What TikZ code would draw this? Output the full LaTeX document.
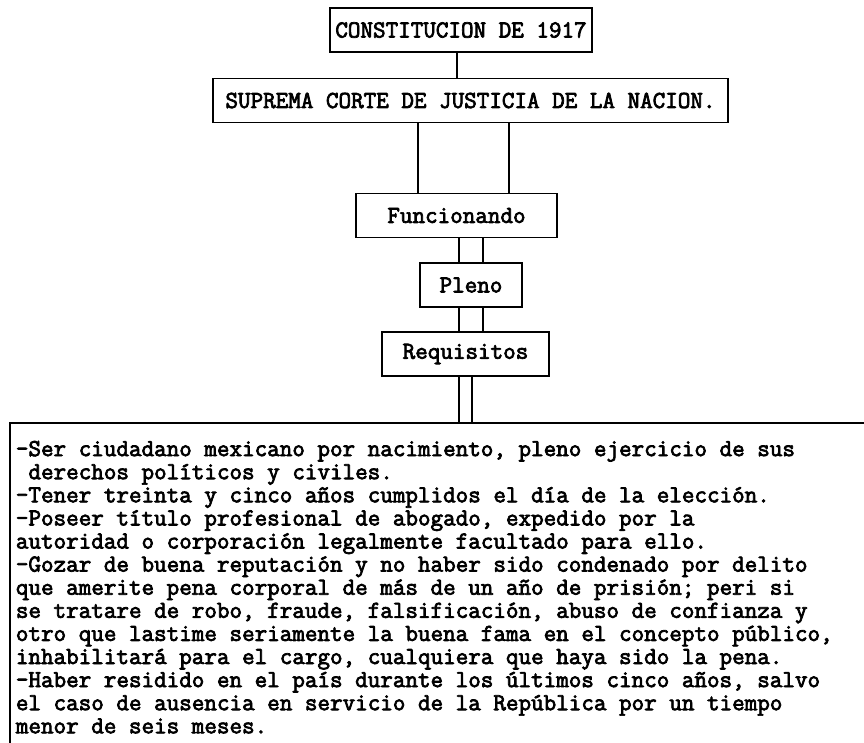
\documentclass[tikz,border=0pt]{standalone}
\usepackage{fontspec}
\newfontfamily\boxfont{Latin Modern Mono}[FakeBold=3]
\begin{document}
\begin{tikzpicture}[x=1pt, y=-1pt, line width=1.8pt,
    every box/.style={draw, inner sep=0pt, minimum height=44pt,
      font=\boxfont\fontsize{24.4}{23.1}\selectfont}]
  \clip (0,0) rectangle (864,742);
  \foreach \m/\t/\x/\y/\w in {constitucion/CONSTITUCION DE 1917/461/30/262,
      suprema/SUPREMA CORTE DE JUSTICIA DE LA NACION./470.5/100.5/515,
      funcionando/Funcionando/456.5/215.5/201,
      pleno/Pleno/471/285/102,
      requisitos/Requisitos/465.5/354/167}
    \node [every box, minimum width=\w pt] (box-\m) at (\x,\y) {\t};
  \node [every box, anchor=north west, minimum height=0pt, text width=880pt,
      align=flush left, inner xsep=6pt, inner ysep=18pt] (box-lista) at (9,422) {%
    -Ser ciudadano mexicano por nacimiento, pleno ejercicio de sus\\
    \ derechos políticos y civiles.\\
    -Tener treinta y cinco años cumplidos el día de la elección.\\
    -Poseer título profesional de abogado, expedido por la\\
    autoridad o corporación legalmente facultado para ello.\\
    -Gozar de buena reputación y no haber sido condenado por delito\\
    que amerite pena corporal de más de un año de prisión; peri si\\
    se tratare de robo, fraude, falsificación, abuso de confianza y\\
    otro que lastime seriamente la buena fama en el concepto público,\\
    inhabilitará para el cargo, cualquiera que haya sido la pena.\\
    -Haber residido en el país durante los últimos cinco años, salvo\\
    el caso de ausencia en servicio de la República por un tiempo\\
    menor de seis meses.};
  \foreach \a/\b/\x in {constitucion/suprema/457,
      suprema/funcionando/418, suprema/funcionando/509,
      funcionando/pleno/459, funcionando/pleno/483,
      pleno/requisitos/459, pleno/requisitos/483,
      requisitos/lista/459, requisitos/lista/472}
    \draw (box-\a.south -| \x,0) -- (box-\b.north -| \x,0);
\end{tikzpicture}
\end{document}
